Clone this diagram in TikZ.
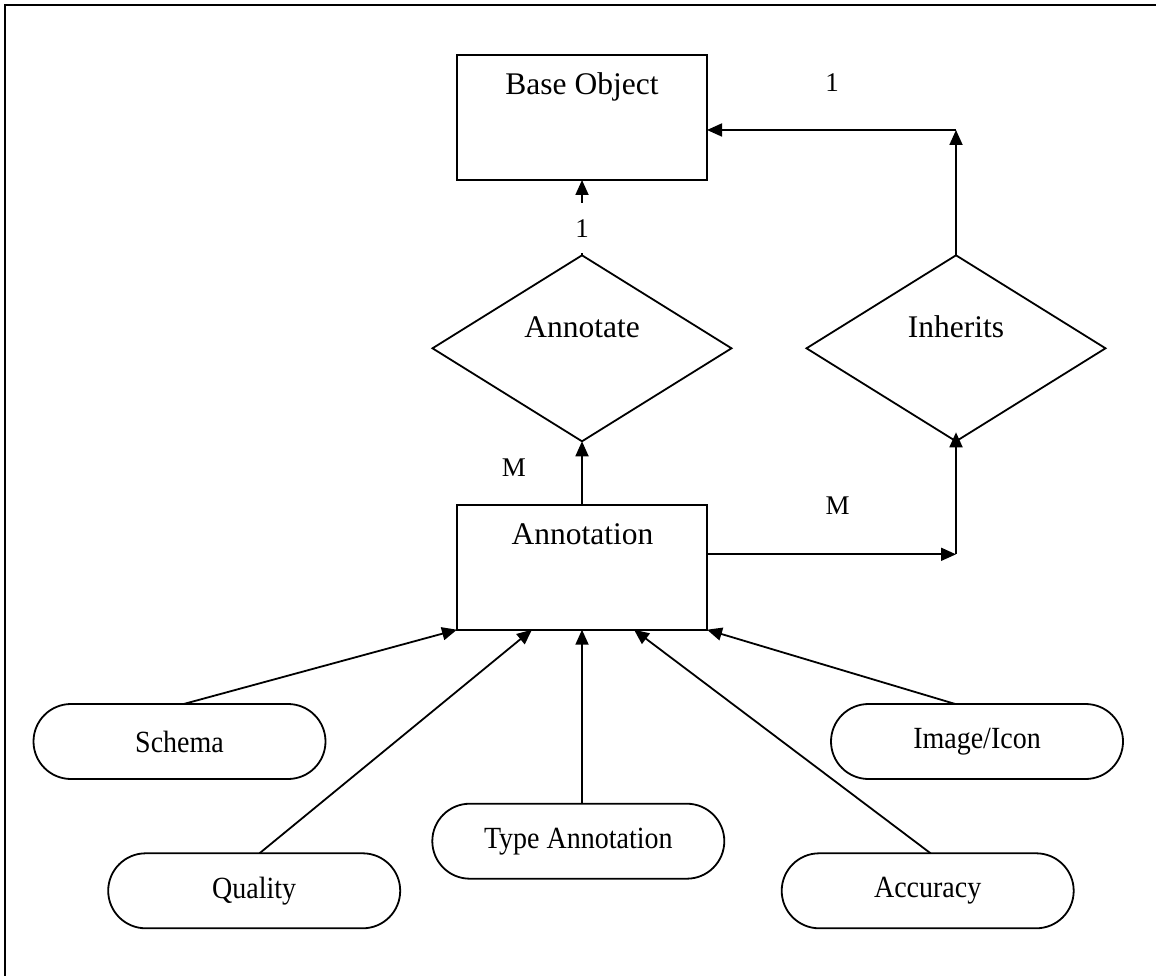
\documentclass[tikz,border=0pt]{standalone}
\usepackage{fontspec}
\setmainfont{Liberation Serif}
\usetikzlibrary{shapes.geometric,arrows.meta,calc}

% attribute labels are set slightly taller than wide
\newcommand{\attrlabel}[1]{\scalebox{1}[1.1]{#1}}

\tikzset{
  entity/.style={draw, rectangle, minimum width=250pt, minimum height=125pt,
    inner sep=0pt, outer sep=0pt, line width=1.8pt},
  relation/.style={draw, diamond, minimum width=299pt, minimum height=186pt,
    inner sep=0pt, outer sep=0pt, line width=1.8pt},
  attribute/.style={draw, rectangle, rounded corners=37.5pt, minimum width=292pt,
    minimum height=75pt, inner sep=0pt, outer sep=0pt, line width=1.8pt,
    font=\fontsize{28}{32}\selectfont},
  bigtext/.style={anchor=base, inner sep=0pt, font=\fontsize{31.5}{36}\selectfont},
  cardtext/.style={anchor=base, inner sep=0pt, font=\fontsize{27}{30}\selectfont},
  arr/.style={line width=1.8pt, -{Triangle[length=15pt,width=13pt]}},
  frameline/.style={line width=2.3pt}
}

\begin{document}
\begin{tikzpicture}[x=1pt,y=-1pt]
\useasboundingbox (0,0) rectangle (1156,976);

% page frame (top and left edges)
\draw[frameline] (5,990) -- (5,5) -- (1170,5);

% entities
\node[entity] (base) at (582,117.5) {};
\node[bigtext] (baseT) at (582,95) {Base Object};
\node[entity] (ann) at (582,567.2) {};
\node[bigtext] (annT) at (582.5,544) {Annotation};

% relationships
\node[relation] (annotate) at (582,348.3) {};
\node[bigtext] (annotateT) at (582,337.3) {Annotate};
\node[relation] (inherits) at (956,348.3) {};
\node[bigtext] (inheritsT) at (956,337.3) {Inherits};

% attributes
\node[attribute] (schema) at (179.5,741.5) {\attrlabel{Schema}};
\node[attribute] (quality) at (254.2,890.8) {\attrlabel{Quality}};
\node[attribute] (type) at (578.3,841.2) {\attrlabel{Type Annotation}};
\node[attribute] (image) at (977,741.5) {\attrlabel{Image/Icon}};
\node[attribute] (accuracy) at (927.7,890.8) {\attrlabel{Accuracy}};

% Annotate -> Base Object
\draw[arr] (annotate.north) -- (base.south);
\node[cardtext, anchor=center, fill=white, minimum width=22pt, minimum height=50pt]
  (one1) at (582,228.5) {1};

% Inherits -> Base Object
\coordinate (c1) at (956,130);
\draw[arr] (inherits.north) -- (c1);
\draw[arr] (c1) -- (base.east |- c1);
\node[cardtext] (one2) at (832,91.7) {1};

% Annotation -> Annotate
\draw[arr] (ann.north) -- (annotate.south);
\node[cardtext] (m1) at (513.8,476.7) {M};

% Annotation -> Inherits
\coordinate (c2) at (956,554.3);
\draw[arr] (ann.east |- c2) -- (c2);
\draw[arr, shorten >=-9pt] (c2) -- (inherits.south);
\node[cardtext] (m2) at (837.7,514) {M};

% attributes -> Annotation
\draw[arr] ($(schema.north)+(4.2,0)$) -- (ann.south west);
\draw[arr] ($(quality.north)+(5.3,0)$) -- ($(ann.south)+(-50,0)$);
\draw[arr] (type.north -| ann.south) -- (ann.south);
\draw[arr] ($(accuracy.north)+(2.9,0)$) -- ($(ann.south)+(52,0)$);
\draw[arr] ($(image.north)+(-21.7,0)$) -- (ann.south east);
\end{tikzpicture}
\end{document}
